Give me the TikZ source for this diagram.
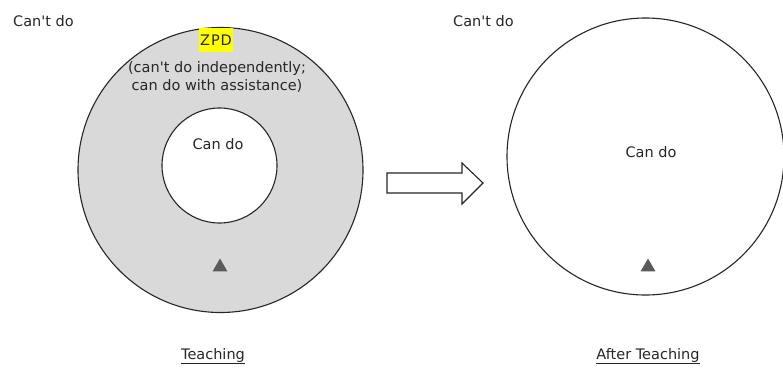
\documentclass[tikz,border=0pt]{standalone}
\usepackage{fontspec}
\setmainfont{DejaVu Sans}
\usetikzlibrary{shapes.geometric}
\definecolor{zpdgray}{HTML}{D9D9D9}
\definecolor{tri}{HTML}{5A5A5A}
\definecolor{hl}{HTML}{FFFF00}
\newcommand{\aps}{\textquotesingle}
\tikzset{
  lbl/.style={font=\fontsize{14.5}{17}\selectfont, text=black!85, inner sep=0pt},
  ring/.style={draw=black!85, line width=1.1pt},
  marker/.style={regular polygon, regular polygon sides=3, fill=tri, draw=none, minimum size=17pt, inner sep=0pt},
}
\begin{document}
\begin{tikzpicture}[x=1pt,y=-1pt]
\useasboundingbox (0,0) rectangle (783,370);
% left diagram
\node[ring, circle, fill=zpdgray, minimum size=285pt, inner sep=0pt] (outer) at (220.5,170) {};
\node[ring, circle, fill=white, minimum size=115pt, inner sep=0pt] (inner) at (219.5,165.5) {};
\node[lbl] (cantL) at (43.5,21) {Can\aps t do};
\node[lbl, fill=hl, minimum width=34pt, minimum height=24pt] (zpd) at (216,40) {Z\kern1pt P\kern1pt D};
\node[lbl, align=center, font=\fontsize{14.5}{18}\selectfont] (zpdtxt) at (217,77) {(can\aps t do independently;\\can do with assistance)};
\node[lbl] (candoL) at (218,144) {Can do};
\node[marker] (triL) at (220,267) {};
\node[lbl] (teach) at (213,356) {\underline{Teaching}};
% arrow
\draw[ring, fill=white, line join=miter] (387,173) -- (462,173) -- (462,163) -- (483,183) -- (462,204) -- (462,193) -- (387,193) -- cycle;
% right diagram
\node[ring, circle, fill=white, minimum size=277pt, inner sep=0pt] (outerR) at (645.5,156.5) {};
\node[lbl] (cantR) at (483.5,21) {Can\aps t do};
\node[lbl] (candoR) at (651,152) {Can do};
\node[marker] (triR) at (648,267) {};
\node[lbl] (after) at (648,356) {\underline{After Teaching}};
\end{tikzpicture}
\end{document}
